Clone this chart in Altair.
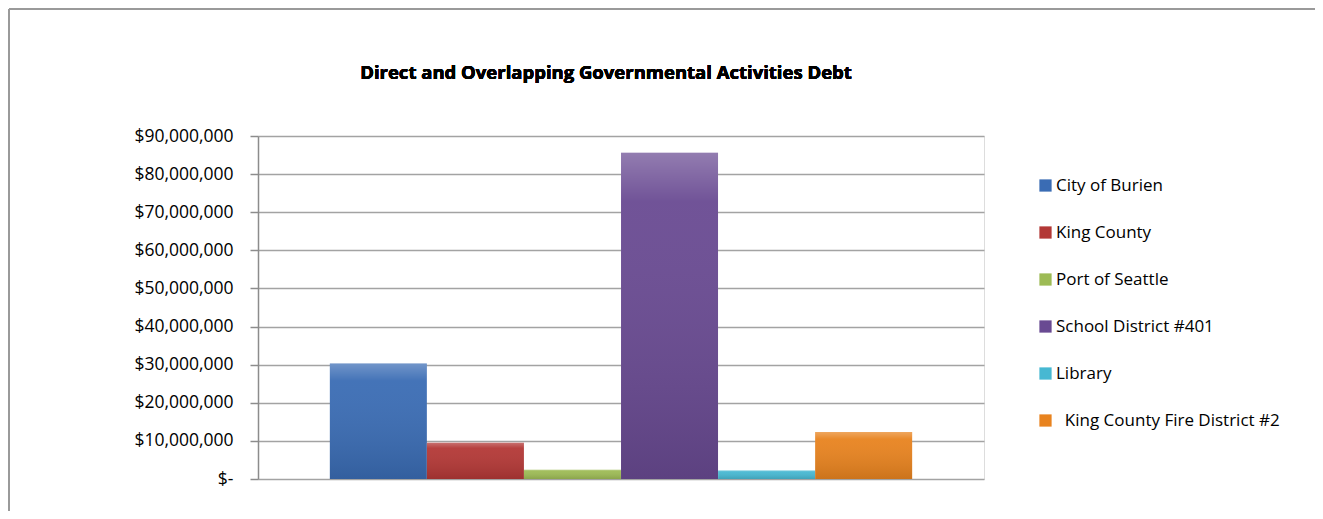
import altair as alt
import pandas as pd

title_text = "Direct and Overlapping Governmental Activities Debt"
categories = [
    "City of Burien",
    "King County",
    "Port of Seattle",
    "School District #401",
    "Library",
    "\u200b\u00a0\u00a0King County Fire District #2",
]
debt = [30300000, 9500000, 2400000, 85600000, 2200000, 12300000]
colors = ["#3A6CB4", "#B33836", "#9DBB55", "#694A92", "#47B8D2", "#E8831F"]
y_ticks = [0, 10000000, 20000000, 30000000, 40000000, 50000000, 60000000, 70000000, 80000000, 90000000]

df = pd.DataFrame({"entity": categories, "debt": debt})

FONT = "Open Sans"
W, H = 726, 343

x_enc = alt.X("entity:N", sort=categories, axis=None,
              scale=alt.Scale(paddingInner=0, paddingOuter=0.74))
y_enc = alt.Y("debt:Q", title=None,
              scale=alt.Scale(domain=[0, 90000000], nice=False),
              axis=alt.Axis(values=y_ticks, grid=True, gridColor="#A3A3A3", gridWidth=1.5,
                            domainColor="#8C8C8C", domainWidth=1.5,
                            tickColor="#8C8C8C", tickSize=8, tickWidth=1.5,
                            labelOverlap=False, labelBound=False, labelFlush=False,
                            labelPadding=17, labelFont=FONT, labelFontSize=17.5,
                            labelColor="#000000",
                            labelExpr="datum.value == 0 ? '$-' : '$' + format(datum.value, ',')"))

bars = alt.Chart(df).mark_bar(size=97).encode(
    x=x_enc,
    y=y_enc,
    color=alt.Color("entity:N", sort=categories,
                    scale=alt.Scale(domain=categories, range=colors),
                    legend=alt.Legend(title=None, orient="none", legendX=779, legendY=41,
                                      symbolType="square", symbolSize=150,
                                      symbolStrokeWidth=0, symbolOpacity=1,
                                      labelFont=FONT, labelFontSize=17, labelColor="#000000",
                                      labelOffset=2, rowPadding=29, labelLimit=400)),
)

shade = alt.Chart(df).mark_bar(
    size=97,
    color=alt.Gradient(
        gradient="linear",
        stops=[alt.GradientStop(color="rgba(255,255,255,0.28)", offset=0),
               alt.GradientStop(color="rgba(255,255,255,0.05)", offset=0.15),
               alt.GradientStop(color="rgba(0,0,0,0.12)", offset=1)],
        x1=0, x2=0, y1=0, y2=1),
).encode(x=x_enc, y=y_enc)

title = alt.Chart(df).mark_text(
    text=title_text, font=FONT, fontSize=18.5, fontWeight="bold", color="#000000",
    align="center", baseline="alphabetic",
).encode(x=alt.value(348), y=alt.value(-57))

border_top = alt.Chart(df).mark_rule(color="#9A9A9A", strokeWidth=2).encode(
    x=alt.value(-249), x2=alt.value(1100), y=alt.value(-127))
border_left = alt.Chart(df).mark_rule(color="#9A9A9A", strokeWidth=2).encode(
    x=alt.value(-249), y=alt.value(-127), y2=alt.value(400))

chart = alt.layer(bars, shade, title, border_top, border_left).properties(
    width=W, height=H,
    autosize=alt.AutoSizeParams(type="none"),
    padding={"left": 250, "top": 128, "right": 331, "bottom": 32},
).configure_view(stroke="#000000", strokeWidth=1.5).configure(background="#FFFFFF")

chart.save("out.html", embed_options={"renderer": "svg", "actions": False})
